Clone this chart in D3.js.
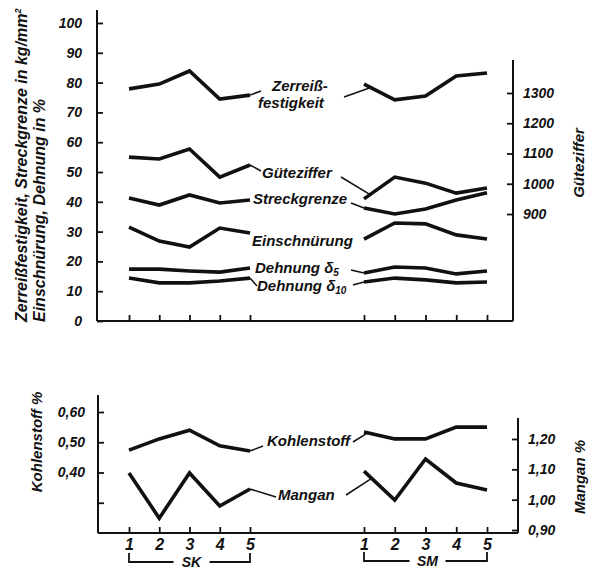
<!DOCTYPE html>
<html>
<head>
<meta charset="utf-8">
<script src="https://cdn.jsdelivr.net/npm/d3@7"></script>
<style>
  body { margin: 0; background: #fff; }
  svg text { font-family: "Liberation Sans", Arial, sans-serif; font-weight: bold; font-style: italic; fill: #111; }
</style>
</head>
<body>
<div id="chart"></div>
<script>
// categories
var samples = ["1", "2", "3", "4", "5"];

// top panel (left scale, kg/mm2 and %)
var zerreissSK = [77.9, 79.5, 83.9, 74.5, 75.8];
var zerreissSM = [79.5, 74.2, 75.5, 82.2, 83.2];
var streckSK = [41.3, 38.9, 42.3, 39.6, 40.6];
var streckSM = [37.9, 35.9, 37.6, 40.6, 43.0];
var einschSK = [31.5, 26.8, 24.8, 31.2, 29.5];
var einschSM = [27.5, 32.9, 32.6, 28.9, 27.5];
var dehnung5SK = [17.4, 17.4, 16.8, 16.4, 17.8];
var dehnung5SM = [16.1, 18.1, 17.8, 15.8, 16.8];
var dehnung10SK = [14.4, 12.8, 12.8, 13.4, 14.4];
var dehnung10SM = [13.1, 14.4, 13.8, 12.8, 13.1];
// top panel (right scale)
var guteSK = [1088, 1082, 1115, 1022, 1062];
var guteSM = [950, 1022, 1002, 969, 986];

// bottom panel
var kohlenSK = [0.474, 0.511, 0.540, 0.488, 0.471];
var kohlenSM = [0.534, 0.511, 0.511, 0.550, 0.550];
var manganSK = [1.088, 0.939, 1.088, 0.979, 1.035];
var manganSM = [1.094, 0.999, 1.134, 1.055, 1.032];

// tick values
var topLeftTicks = [0, 10, 20, 30, 40, 50, 60, 70, 80, 90, 100];
var topRightTicks = [900, 1000, 1100, 1200, 1300];
var botLeftTicks = [0.3, 0.4, 0.5, 0.6];
var botRightTicks = [0.9, 1.0, 1.1, 1.2];

var svg = d3.select("#chart").append("svg")
  .attr("width", 597)
  .attr("height", 571);

var ink = "#111";

// scales
var xSK = d3.scalePoint().domain(samples).range([129, 250]);
var xSM = d3.scalePoint().domain(samples).range([364, 487]);
var yTop = d3.scaleLinear().domain([0, 100]).range([321, 23]);
var yGute = d3.scaleLinear().domain([900, 1300]).range([214, 93]);
var yC = d3.scaleLinear().domain([0.2, 0.6]).range([533, 412]);
var yMn = d3.scaleLinear().domain([0.9, 1.2]).range([530, 439]);

var fmt = d3.formatLocale({decimal: ",", thousands: ".", grouping: [3], currency: ["", ""]}).format(".2f");

// helper for a vertical axis with inward ticks and a custom line extent
function vAxis(axisFn, scale, ticks, x, y0, y1, pad, format) {
  var g = svg.append("g").attr("transform", `translate(${x},0)`);
  g.call(axisFn(scale).tickValues(ticks).tickSizeInner(-6).tickSizeOuter(0).tickPadding(pad).tickFormat(format));
  g.select(".domain").remove();
  g.selectAll(".tick line").attr("stroke", ink).attr("stroke-width", 1.8);
  g.selectAll(".tick text").style("font-size", "14px");
  g.append("line").attr("y1", y0).attr("y2", y1).attr("stroke", ink).attr("stroke-width", 2);
  return g;
}

vAxis(d3.axisLeft, yTop, topLeftTicks, 97, 10, 321, 15, d => d);
vAxis(d3.axisRight, yGute, topRightTicks, 513, 60, 321, 10, d => d);
vAxis(d3.axisLeft, yC, botLeftTicks, 98, 395, 533, 13, d => d === 0.3 ? "" : fmt(d));
vAxis(d3.axisRight, yMn, botRightTicks, 518, 418, 533, 10, d => fmt(d));

// horizontal axes
function hAxis(y, x0, x1, labels) {
  svg.append("line").attr("x1", x0).attr("x2", x1).attr("y1", y).attr("y2", y)
    .attr("stroke", ink).attr("stroke-width", 2);
  [xSK, xSM].forEach(function(xs) {
    var g = svg.append("g").attr("transform", `translate(0,${y})`);
    g.call(d3.axisBottom(xs).tickSizeInner(-6).tickSizeOuter(0).tickPadding(6));
    g.select(".domain").remove();
    g.selectAll(".tick line").attr("stroke", ink).attr("stroke-width", 1.8);
    g.selectAll(".tick text").style("font-size", "16px").text(labels ? (d => d) : "");
  });
}
hAxis(321, 97, 513, false);
hAxis(533, 98, 518, true);

// group brackets
function bracket(xs, y, name) {
  var x0 = xs(samples[0]), x1 = xs(samples[samples.length - 1]), xm = (x0 + x1) / 2 + 2;
  svg.append("path")
    .attr("d", `M${x0},${y - 9}V${y}H${xm - 18}M${xm + 18},${y}H${x1}V${y - 9}`)
    .attr("fill", "none").attr("stroke", ink).attr("stroke-width", 1.8);
  svg.append("text").attr("x", xm).attr("y", y + 5).attr("text-anchor", "middle")
    .style("font-size", "14px").text(name);
}
bracket(xSK, 562, "SK");
bracket(xSM, 561, "SM");

// series lines
var line = function(xs, ys) {
  return d3.line().x((d, i) => xs(samples[i])).y(d => ys(d));
};
var series = [
  [zerreissSK, zerreissSM, yTop],
  [guteSK, guteSM, yGute],
  [streckSK, streckSM, yTop],
  [einschSK, einschSM, yTop],
  [dehnung5SK, dehnung5SM, yTop],
  [dehnung10SK, dehnung10SM, yTop],
  [kohlenSK, kohlenSM, yC],
  [manganSK, manganSM, yMn]
];
series.forEach(function(s) {
  svg.append("path").datum(s[0]).attr("d", line(xSK, s[2]))
    .attr("fill", "none").attr("stroke", ink).attr("stroke-width", 3.6).attr("stroke-linejoin", "miter");
  svg.append("path").datum(s[1]).attr("d", line(xSM, s[2]))
    .attr("fill", "none").attr("stroke", ink).attr("stroke-width", 3.6).attr("stroke-linejoin", "miter");
});

// point on a series: group SK last point or along first SM segment
function skEnd(vals, ys) { return [xSK(samples[4]), ys(vals[4])]; }
function smAt(vals, ys, t) {
  var a = [xSM(samples[0]), ys(vals[0])], b = [xSM(samples[1]), ys(vals[1])];
  return [a[0] + (b[0] - a[0]) * t, a[1] + (b[1] - a[1]) * t];
}

// curve labels with leader lines
var labels = [
  {lines: [["Zerreiß-", 272, 91], ["festigkeit", 258, 108]],
   left: [skEnd(zerreissSK, yTop), [261, 91]], right: [[344, 97], smAt(zerreissSM, yTop, 0.22)]},
  {lines: [["Güteziffer", 262, 178]],
   left: [skEnd(guteSK, yGute), [261, 171]], right: [[341, 177], smAt(guteSM, yGute, 0.2)]},
  {lines: [["Streckgrenze", 253, 204]],
   left: null, right: [[351, 203], smAt(streckSM, yTop, 0)]},
  {lines: [["Einschnürung", 252, 246]], left: null, right: null},
  {lines: [["Dehnung δ", 255, 273, "5"]],
   left: null, right: [[351, 270], smAt(dehnung5SM, yTop, 0)]},
  {lines: [["Dehnung δ", 257, 291, "10"]],
   left: [skEnd(dehnung10SK, yTop), [257, 286]], right: [[353, 285], smAt(dehnung10SM, yTop, 0)]},
  {lines: [["Kohlenstoff", 267, 446]],
   left: [skEnd(kohlenSK, yC), [263, 446]], right: [[353, 442], smAt(kohlenSM, yC, 0.12)]},
  {lines: [["Mangan", 278, 500]],
   left: [skEnd(manganSK, yMn), [276, 497]], right: [[346, 495], smAt(manganSM, yMn, 0.25)]}
];
labels.forEach(function(l) {
  l.lines.forEach(function(t) {
    var txt = svg.append("text").attr("x", t[1]).attr("y", t[2]).style("font-size", "15px").text(t[0]);
    if (t[3]) {
      txt.append("tspan").attr("dy", 3).style("font-size", "10px").text(t[3]);
    }
  });
  [l.left, l.right].forEach(function(seg) {
    if (!seg) return;
    svg.append("line").attr("x1", seg[0][0]).attr("y1", seg[0][1]).attr("x2", seg[1][0]).attr("y2", seg[1][1])
      .attr("stroke", ink).attr("stroke-width", 1.5);
  });
});

// axis titles
function vTitle(x, y, anchor, size, parts) {
  var t = svg.append("text").attr("transform", `translate(${x},${y}) rotate(-90)`)
    .attr("text-anchor", anchor).style("font-size", size + "px");
  parts.forEach(function(p) {
    var s = t.append("tspan").text(p[0]);
    if (p[1]) s.attr("dy", p[1]).style("font-size", "9px");
  });
}
vTitle(27, 322, "start", 16, [["Zerreißfestigkeit, Streckgrenze in kg/mm"], ["2", -6]]);
vTitle(45, 322, "start", 16, [["Einschnürung, Dehnung in %"]]);
vTitle(584, 163, "middle", 15, [["Güteziffer"]]);
vTitle(42, 442, "middle", 15, [["Kohlenstoff %"]]);
vTitle(585, 477, "middle", 15, [["Mangan %"]]);
</script>
</body>
</html>
